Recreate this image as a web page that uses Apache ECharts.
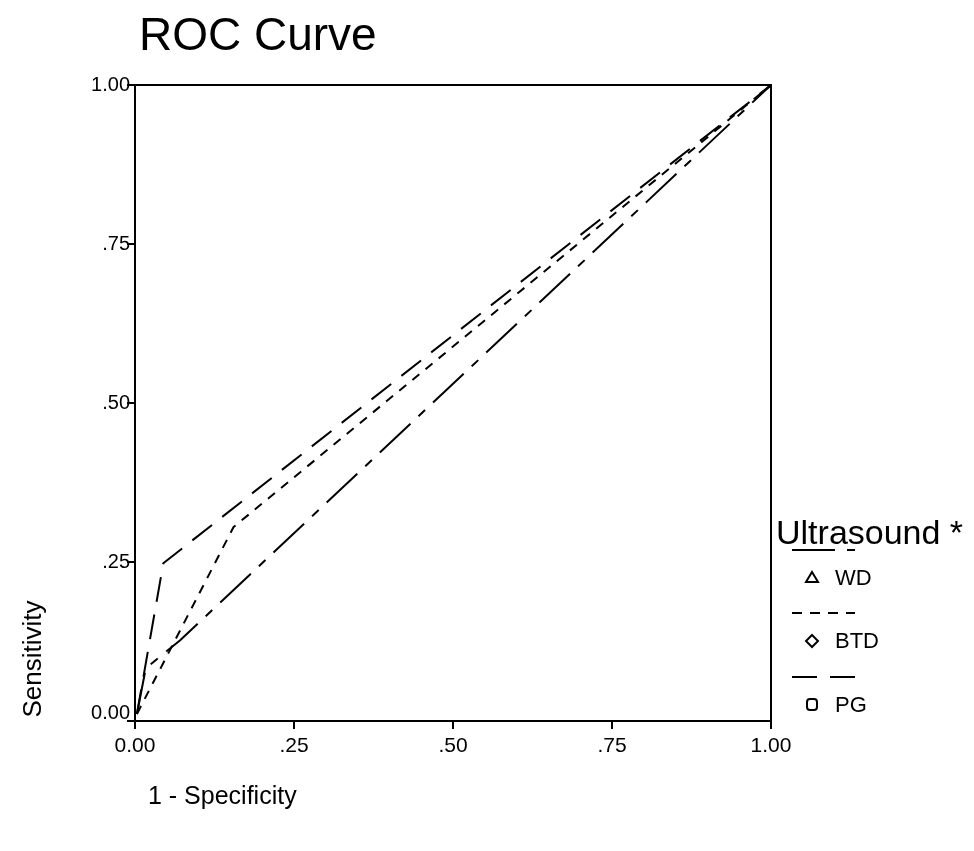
<!DOCTYPE html>
<html>
<head>
<meta charset="utf-8">
<script src="https://cdn.jsdelivr.net/npm/echarts@6/dist/echarts.min.js"></script>
<style>html,body{margin:0;padding:0;background:#fff;}#c{width:974px;height:851px;}</style>
</head>
<body>
<div id="c"></div>
<script>
// ---- data ----
const seriesNames = ['WD', 'BTD', 'PG'];
const wdX  = [0.003, 0.017, 0.071, 1.0];
const wdY  = [0.011, 0.083, 0.127, 1.0];
const btdX = [0.003, 0.155, 1.0];
const btdY = [0.011, 0.305, 1.0];
const pgX  = [0.003, 0.0445, 1.0];
const pgY  = [0.011, 0.248, 1.0];
const tickValues = [0, 0.25, 0.5, 0.75, 1];
const tickLabels = ['0.00', '.25', '.50', '.75', '1.00'];
const chartTitle = 'ROC Curve';
const xName = '1 - Specificity';
const yName = 'Sensitivity';
const legendTitle = 'Ultrasound *';

const FONT = '"Liberation Sans", Arial, sans-serif';
const dashes = [[42, 11, 9, 11], [9, 8], [25, 13]];
const legendDashes = [[43, 12, 8, 12], [10, 8], [25, 13]];
const xs = [wdX, btdX, pgX];
const ys = [wdY, btdY, pgY];

function pairs(x, y) { return x.map((v, i) => [v, y[i]]); }
function fmt(v) {
  const i = tickValues.findIndex(t => Math.abs(t - v) < 1e-9);
  return i >= 0 ? tickLabels[i] : '';
}
function fmtY(v) {
  const s = fmt(v);
  return v === 0 ? '{z|' + s + '}' : s;
}

const chart = echarts.init(document.getElementById('c'), null, {renderer: 'canvas'});

const gl = {left: 135, top: 85, width: 636, height: 636};

const axisCommon = {
  type: 'value', min: 0, max: 1, interval: 0.25,
  axisLine: {show: true, onZero: false, lineStyle: {color: '#000', width: 2}},
  axisTick: {show: true, length: 8, lineStyle: {color: '#000', width: 2}},
  splitLine: {show: false},
};

// legend drawn as graphic (line sample above, symbol + name below)
const legendGraphics = [];
legendGraphics.push({
  type: 'text', left: 776, top: 518,
  style: {text: legendTitle, font: '34px ' + FONT, fill: '#000'}
});
const lineYs = [550, 613, 677];
const symYs = [578, 641, 705];
seriesNames.forEach((name, i) => {
  const ly = lineYs[i], sy = symYs[i];
  legendGraphics.push({
    type: 'line', shape: {x1: 792, y1: ly, x2: 855, y2: ly},
    style: {stroke: '#000', lineWidth: 2, lineDash: legendDashes[i]}
  });
  let sym;
  if (i === 0) {
    sym = {type: 'polygon', shape: {points: [[812, sy - 6], [818, sy + 4], [806, sy + 4]]},
      style: {stroke: '#000', fill: 'none', lineWidth: 2}};
  } else if (i === 1) {
    sym = {type: 'polygon', shape: {points: [[812, sy - 6], [818, sy], [812, sy + 6], [806, sy]]},
      style: {stroke: '#000', fill: 'none', lineWidth: 2}};
  } else {
    sym = {type: 'rect', shape: {x: 807, y: sy - 6, width: 10, height: 11, r: 3},
      style: {stroke: '#000', fill: 'none', lineWidth: 2}};
  }
  legendGraphics.push(sym);
  legendGraphics.push({
    type: 'text', left: 835, top: sy - 10,
    style: {text: name, font: '22px ' + FONT, fill: '#000'}
  });
});

const option = {
  backgroundColor: '#fff',
  animation: false,
  title: {
    text: chartTitle, left: 134, top: 9,
    textStyle: {fontFamily: FONT, fontSize: 46, fontWeight: 'normal', color: '#000'}
  },
  grid: Object.assign({show: true, borderColor: '#000', borderWidth: 2, backgroundColor: 'transparent'}, gl),
  xAxis: Object.assign({}, axisCommon, {
    axisLabel: {formatter: fmt, margin: 15, fontFamily: FONT, fontSize: 21, color: '#000'}
  }),
  yAxis: Object.assign({}, axisCommon, {
    axisLabel: {formatter: fmtY, margin: 5, fontFamily: FONT, fontSize: 20, color: '#000',
      rich: {z: {fontFamily: FONT, fontSize: 20, color: '#000', padding: [0, 0, 16, 0]}}}
  }),
  series: seriesNames.map((name, i) => ({
    name: name, type: 'line', data: pairs(xs[i], ys[i]),
    showSymbol: false, symbol: 'none',
    lineStyle: {color: '#000', width: 2, type: dashes[i]},
    z: 3
  })),
  graphic: [
    {type: 'text', left: 148, top: 785,
     style: {text: xName, font: '25px ' + FONT, fill: '#000'}},
    {type: 'text', x: 34, y: 659, rotation: Math.PI / 2,
     style: {text: yName, font: '26px ' + FONT, fill: '#000', align: 'center', verticalAlign: 'middle'}}
  ].concat(legendGraphics)
};
chart.setOption(option);
</script>
</body>
</html>
